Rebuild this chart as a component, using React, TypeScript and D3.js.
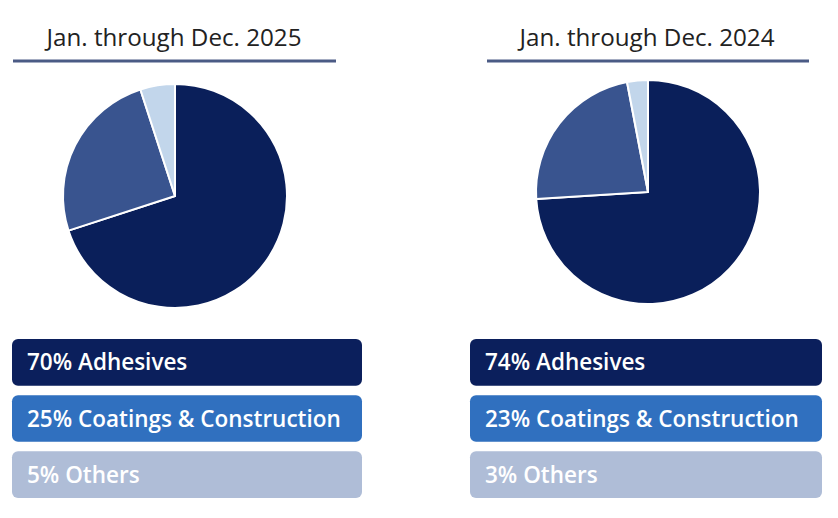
import React from "react";
import * as d3 from "d3";

const categories = ["Adhesives", "Coatings & Construction", "Others"];
const titles = ["Jan. through Dec. 2025", "Jan. through Dec. 2024"];
const values2025 = [70, 25, 5];
const values2024 = [74, 23, 3];
const seriesValues = [values2025, values2024];

const sliceColors = ["#0a1f5a", "#39548f", "#c2d6eb"];
const boxColors = ["#0b1f5c", "#3070bf", "#afbdd7"];

const W = 838;
const H = 518;

const panels = [
  { cx: 175, cy: 196, titleX: 174, lineX0: 13, lineX1: 336, boxX0: 12, boxX1: 362 },
  { cx: 648, cy: 192, titleX: 647, lineX0: 487, lineX1: 809, boxX0: 470, boxX1: 822 },
];

const boxY = d3.scaleBand<number>().domain([0, 1, 2]).range([339, 498]).paddingInner(0.17).paddingOuter(0);

export default function App() {
  const pie = d3
    .pie<number>()
    .sort(null)
    .value((d) => d)
    .startAngle(0)
    .endAngle(2 * Math.PI);
  const arc = d3.arc<d3.PieArcDatum<number>>().innerRadius(0).outerRadius(112);

  return (
    <svg
      width={W}
      height={H}
      style={{ position: "absolute", left: 0, top: 0, background: "#fff" }}
      fontFamily="'Open Sans', 'Noto Sans', sans-serif"
    >
      {panels.map((p, i) => {
        const arcs = pie(seriesValues[i]);
        return (
          <g key={i}>
            <text x={p.titleX} y={46} textAnchor="middle" fontSize={24.2} fill="#222">
              {titles[i]}
            </text>
            <line x1={p.lineX0} x2={p.lineX1} y1={61} y2={61} stroke="#4b5b85" strokeWidth={3} />
            <g transform={`translate(${p.cx},${p.cy})`}>
              {arcs.map((a, j) => (
                <path key={j} d={arc(a) || ""} fill={sliceColors[j]} stroke="#fff" strokeWidth={2} strokeLinejoin="round" />
              ))}
            </g>
            {categories.map((c, j) => {
              const y = boxY(j) as number;
              const h = boxY.bandwidth();
              return (
                <g key={j}>
                  <rect x={p.boxX0} y={y} width={p.boxX1 - p.boxX0} height={h} rx={6} fill={boxColors[j]} />
                  <text
                    x={p.boxX0 + 15}
                    y={y + h / 2}
                    dy="0.36em"
                    fontSize={22.5}
                    fontWeight={600}
                    fill="#fff"
                  >
                    {`${seriesValues[i][j]}% ${c}`}
                  </text>
                </g>
              );
            })}
          </g>
        );
      })}
    </svg>
  );
}
